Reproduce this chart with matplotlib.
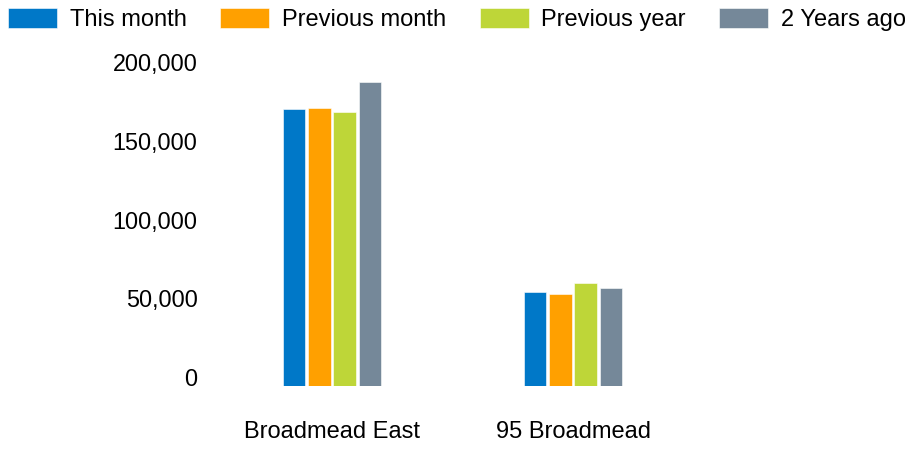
import matplotlib.pyplot as plt
import matplotlib.transforms as mtransforms
import numpy as np

plt.rcParams['font.family'] = ['Liberation Sans', 'DejaVu Sans']

# data
sites = ["Broadmead East", "95 Broadmead"]
series = ["This month", "Previous month", "Previous year", "2 Years ago"]
this_month = [176000, 60000]
prev_month = [176500, 58500]
prev_year = [174000, 65500]
two_years = [193000, 62300]
values = [this_month, prev_month, prev_year, two_years]
colors = ["#0078C8", "#FFA000", "#BED638", "#758899"]
yticks = [0, 50000, 100000, 150000, 200000]

fig = plt.figure(figsize=(9.05, 4.5), dpi=100)
ax = fig.add_axes([0.2337, 0.142, 0.5326, 0.700])

x = np.arange(len(sites))
step = 0.104
width = 0.092
for i, (name, vals) in enumerate(zip(series, values)):
    offs = (i - 1.5) * step
    ax.bar(x + offs, vals, width, color=colors[i], label=name,
           edgecolor="white", linewidth=0.4)

ax.set_xlim(-0.5, 1.5)
ax.set_ylim(0, 200000)
ax.set_xticks(x)
ax.set_xticklabels(sites, fontsize=17)
ax.set_yticks(yticks)
ax.set_yticklabels([f"{v:,}" for v in yticks], fontsize=16.8)
ax.tick_params(axis="both", length=0)
ax.tick_params(axis="x", pad=25)
ax.tick_params(axis="y", pad=10)
for s in ax.spines.values():
    s.set_visible(False)

# y labels sit a bit above their value
shift = mtransforms.ScaledTranslation(0, 9 / 100, fig.dpi_scale_trans)
for lab in ax.get_yticklabels():
    lab.set_transform(lab.get_transform() + shift)

fig.legend(loc="upper left", bbox_to_anchor=(0.0, 1.0), ncol=4, fontsize=17,
           frameon=False, handlelength=2.08, handleheight=0.93,
           handletextpad=0.53, columnspacing=1.42, borderpad=0.2,
           borderaxespad=0.15)

fig.savefig("out.png", dpi=100)
